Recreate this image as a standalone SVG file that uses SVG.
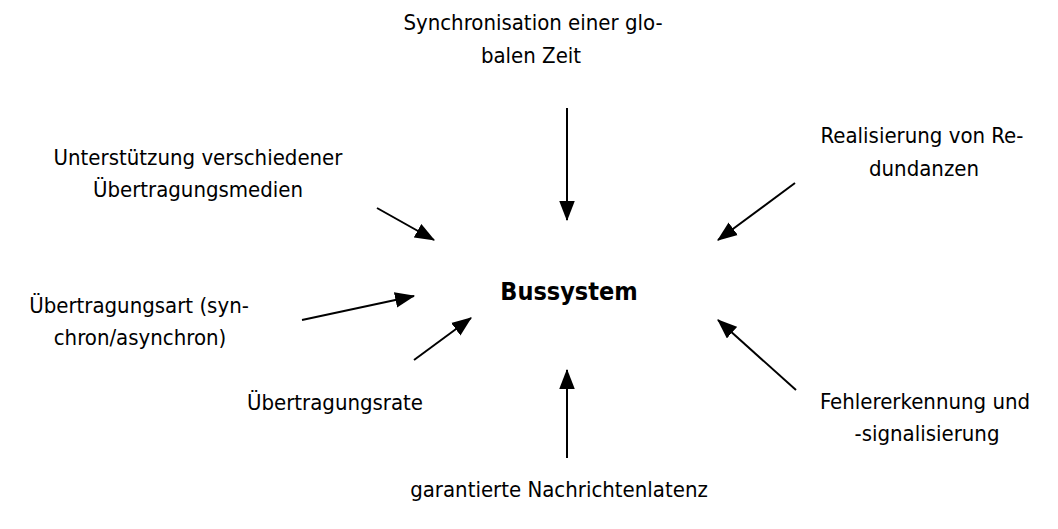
<svg xmlns="http://www.w3.org/2000/svg" width="1058" height="529" viewBox="0 0 1058 529">
<style>
text{font-family:"DejaVu Sans Condensed","DejaVu Sans","Liberation Sans",sans-serif;font-size:22px;fill:#000;text-anchor:middle}
.b{font-weight:bold;font-size:25px}
.c line{stroke:#000;stroke-width:2;marker-end:url(#ah)}
</style>
<defs>
<marker id="ah" markerUnits="userSpaceOnUse" markerWidth="20" markerHeight="16" refX="17" refY="7" orient="auto" viewBox="0 0 18 14">
<path d="M0,0 L18,7 L0,14 Z" fill="#000"/>
</marker>
</defs>
<rect width="1058" height="529" fill="#fff"/>
<g id="center"><text class="b" x="569" y="300">Bussystem</text></g>
<g id="n-sync"><text x="533" y="30">Synchronisation einer glo-</text><text x="531" y="63">balen Zeit</text></g>
<g id="n-red"><text x="922" y="143">Realisierung von Re-</text><text x="924" y="176">dundanzen</text></g>
<g id="n-medien"><text x="198" y="165">Unterstützung verschiedener</text><text x="198" y="197">Übertragungsmedien</text></g>
<g id="n-art"><text x="139" y="313">Übertragungsart (syn-</text><text x="140" y="345">chron/asynchron)</text></g>
<g id="n-rate"><text x="335" y="410">Übertragungsrate</text></g>
<g id="n-fehler"><text x="925" y="409">Fehlererkennung und</text><text x="927" y="441">-signalisierung</text></g>
<g id="n-latenz"><text x="559" y="497">garantierte Nachrichtenlatenz</text></g>
<g class="c" id="connectors">
<line x1="567" y1="108" x2="567" y2="220"/>
<line x1="377" y1="208" x2="434" y2="240"/>
<line x1="795" y1="183" x2="718" y2="240"/>
<line x1="302" y1="320" x2="414" y2="296"/>
<line x1="414" y1="360" x2="471" y2="318"/>
<line x1="567" y1="458" x2="567" y2="370"/>
<line x1="796" y1="390" x2="718" y2="320"/>
</g>
</svg>
